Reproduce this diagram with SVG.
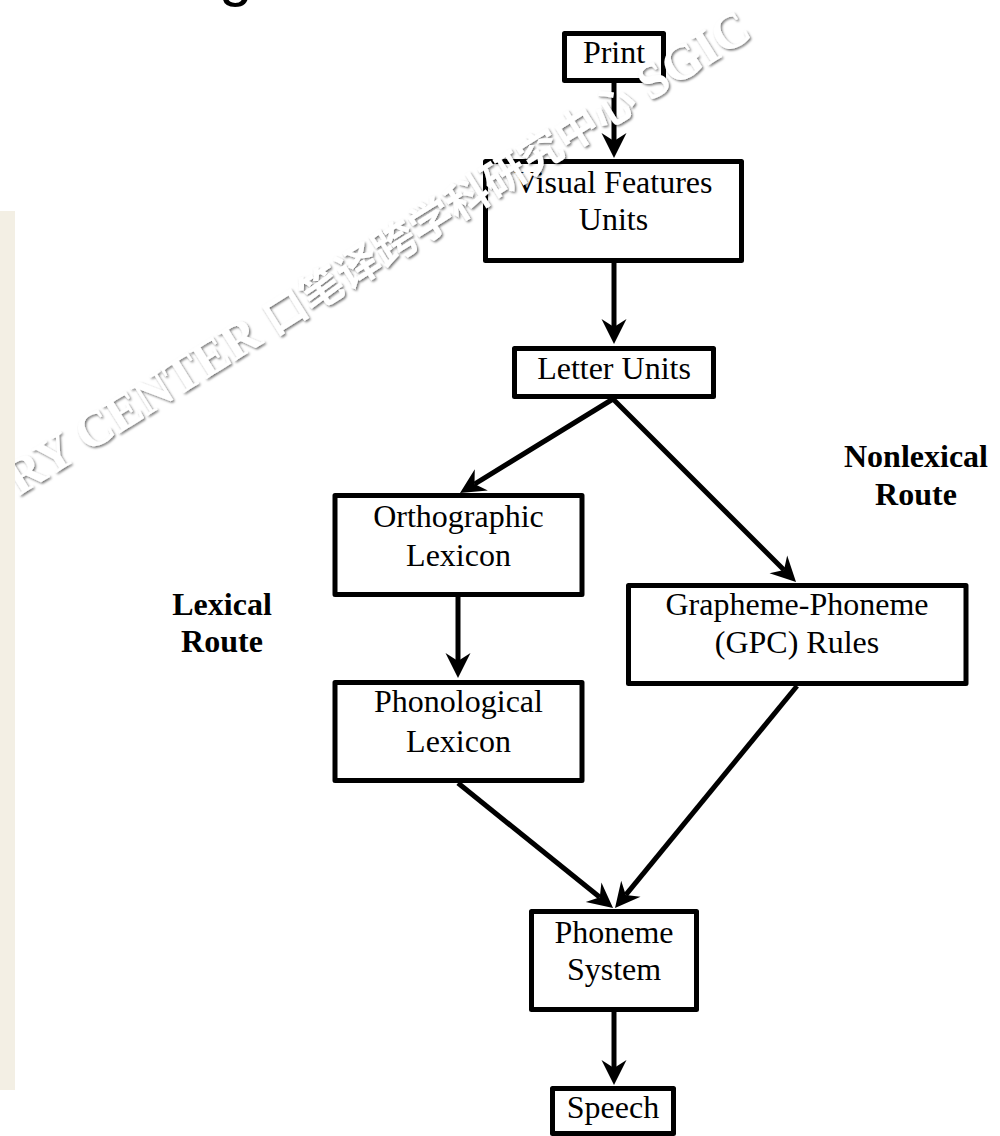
<svg xmlns="http://www.w3.org/2000/svg" width="1000" height="1136" viewBox="0 0 1000 1136">
<style>
.box{fill:#fff;stroke:#000;stroke-width:5;stroke-linejoin:round}
.lbl{font-family:"Liberation Serif","Times New Roman",serif;font-size:32px;fill:#000;text-anchor:middle}
.bold{font-weight:bold}
.conn{stroke:#000;stroke-width:5;fill:none}
.wm{font-family:"Liberation Serif","Noto Sans CJK SC",serif;font-weight:bold;fill:#fff}
</style>
<defs>
<marker id="ah" markerUnits="userSpaceOnUse" viewBox="-10 -14 30 28" markerWidth="30" markerHeight="28" refX="0" refY="0" orient="auto">
<path d="M17,0 L-8,-12.5 L0,0 L-8,12.5 Z" fill="#000"/>
</marker>
<filter id="sh" x="-5%" y="-5%" width="110%" height="110%">
<feDropShadow dx="1.5" dy="1.5" stdDeviation="1.2" flood-color="#000" flood-opacity="0.55"/>
</filter>
</defs>
<rect x="0" y="0" width="1000" height="1136" fill="#fff"/>
<rect id="side-panel" x="0" y="211" width="15" height="879" fill="#f3efe4"/>
<text x="219" y="-5" style="font-family:'Liberation Sans',Arial,sans-serif;font-size:60px;fill:#000">g</text>

<g id="connectors">
<line class="conn" x1="614" y1="83" x2="614" y2="141" marker-end="url(#ah)"/>
<line class="conn" x1="614" y1="263" x2="614" y2="327" marker-end="url(#ah)"/>
<line class="conn" x1="613" y1="399" x2="474.5" y2="484.1" marker-end="url(#ah)"/>
<line class="conn" x1="613" y1="399" x2="784" y2="570" marker-end="url(#ah)"/>
<line class="conn" x1="458" y1="597" x2="458" y2="661" marker-end="url(#ah)"/>
<line class="conn" x1="458" y1="783" x2="599.8" y2="897.3" marker-end="url(#ah)"/>
<line class="conn" x1="797" y1="686" x2="625.8" y2="894.9" marker-end="url(#ah)"/>
<line class="conn" x1="614" y1="1012" x2="614" y2="1068" marker-end="url(#ah)"/>
</g>

<g id="print">
<rect class="box" x="564.5" y="33.5" width="99" height="47"/>
<text class="lbl" x="614" y="63">Print</text>
</g>
<g id="visual-features">
<rect class="box" x="485.5" y="161.5" width="256" height="99"/>
<text class="lbl" x="613.5" y="193">Visual Features</text>
<text class="lbl" x="613.5" y="230">Units</text>
</g>
<g id="letter-units">
<rect class="box" x="514.5" y="348.5" width="199" height="48"/>
<text class="lbl" x="614" y="379">Letter Units</text>
</g>
<g id="orthographic-lexicon">
<rect class="box" x="335" y="495.5" width="247" height="99"/>
<text class="lbl" x="458.5" y="527">Orthographic</text>
<text class="lbl" x="458.5" y="566">Lexicon</text>
</g>
<g id="gpc-rules">
<rect class="box" x="628.5" y="585.5" width="337.5" height="98"/>
<text class="lbl" x="797" y="615">Grapheme-Phoneme</text>
<text class="lbl" x="797" y="653">(GPC) Rules</text>
</g>
<g id="phonological-lexicon">
<rect class="box" x="335" y="682.5" width="247" height="98"/>
<text class="lbl" x="458.5" y="712">Phonological</text>
<text class="lbl" x="458.5" y="752">Lexicon</text>
</g>
<g id="phoneme-system">
<rect class="box" x="531.5" y="911.5" width="165" height="98"/>
<text class="lbl" x="614" y="943">Phoneme</text>
<text class="lbl" x="614" y="980">System</text>
</g>
<g id="speech">
<rect class="box" x="552.5" y="1088.5" width="121" height="45"/>
<text class="lbl" x="613" y="1118">Speech</text>
</g>
<g id="route-labels">
<text class="lbl bold" x="916" y="467">Nonlexical</text>
<text class="lbl bold" x="916" y="505">Route</text>
<text class="lbl bold" x="222" y="615">Lexical</text>
<text class="lbl bold" x="222" y="652">Route</text>
</g>

<g id="watermark" filter="url(#sh)">
<text class="wm" transform="translate(19,496) rotate(-32)" font-size="50">RY CENTER <tspan font-size="43" style="font-family:'Noto Sans CJK SC',sans-serif">口笔译跨学科研究中心</tspan> SGIC</text>
</g>
<rect x="0" y="211" width="15" height="879" fill="#f3efe4"/>
</svg>
